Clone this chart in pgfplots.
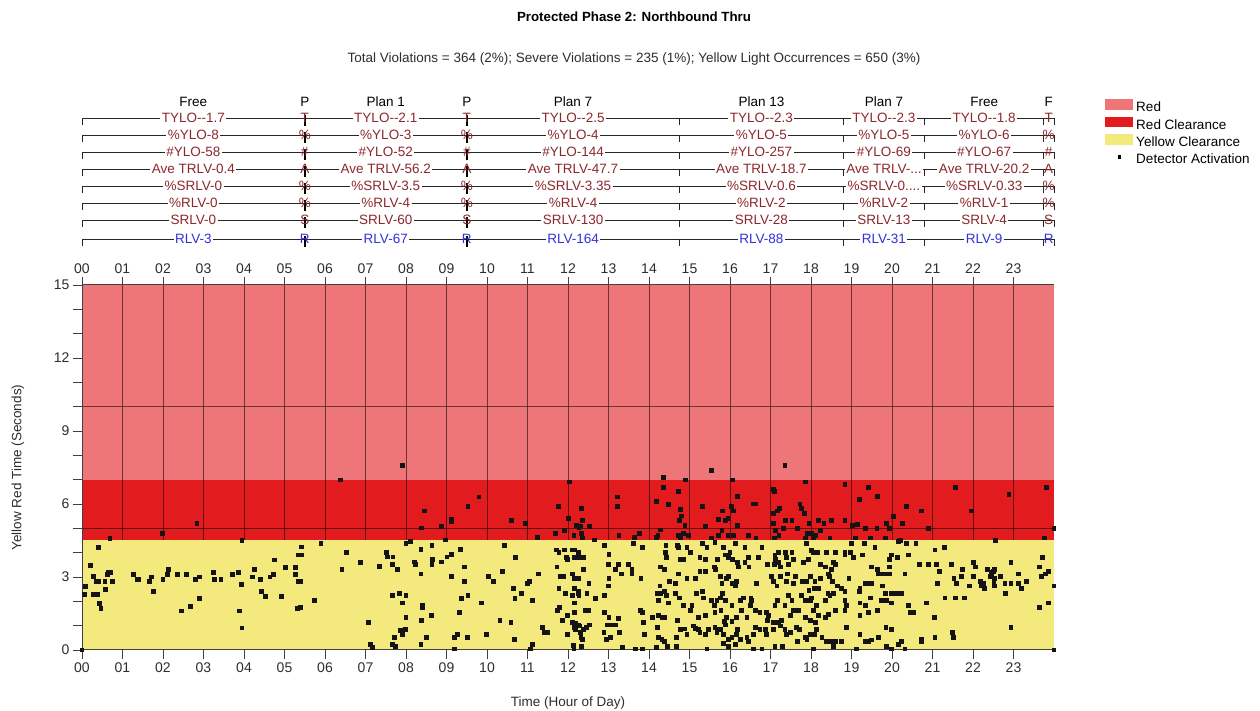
\documentclass[border=0pt]{standalone}
\usepackage{pgfplots}
\pgfplotsset{compat=1.18}
\usepackage{fontspec}
\setmainfont{Liberation Sans}

\definecolor{redzone}{RGB}{238,118,121}
\definecolor{redclear}{RGB}{226,28,30}
\definecolor{yellowclear}{RGB}{244,233,124}
\definecolor{hdrtext}{RGB}{140,40,45}
\definecolor{rlvblue}{RGB}{50,50,220}
\definecolor{axisgray}{RGB}{64,64,64}
\definecolor{labgray}{RGB}{45,45,45}

\newcommand\hfont{\fontsize{13.5}{15}\selectfont}

\tikzset{
  hline/.style={black!85, line width=0.9pt},
  hlab/.style={font=\hfont, fill=white, inner xsep=1.5pt, inner ysep=1pt, anchor=base, yshift=-4.8pt},
  hletter/.style={font=\hfont, inner sep=0pt, anchor=base, yshift=-4.8pt},
}

% plan rows, left part: y, colour, Free text, short-plan letter, Plan 1 text, Plan 7 text
\newcommand{\hdrrowA}[6]{%
  \draw[hline] (axis cs:0,#1) -- (axis cs:24,#1);
  \draw[hline] (axis cs:0,#1) -- ++(0pt,-7pt);
  \node[hlab,text=#2] at (axis cs:2.75,#1) {#3};
  \node[hlab,text=#2] at (axis cs:7.5,#1) {#5};
  \node[hlab,text=#2] at (axis cs:12.125,#1) {#6};
  \draw[black, line width=2.2pt] (axis cs:5.5,#1) ++(0pt,3pt) -- ++(0pt,-11pt);
  \draw[black, line width=2.2pt] (axis cs:9.5,#1) ++(0pt,3pt) -- ++(0pt,-11pt);
  \node[hletter,text=#2] at (axis cs:5.5,#1) {#4};
  \node[hletter,text=#2] at (axis cs:9.5,#1) {#4};
}
% plan rows, right part: y, colour, Plan 13 text, Plan 7 text, Free text, last letter
\newcommand{\hdrrowB}[6]{%
  \draw[hline] (axis cs:14.75,#1) -- ++(0pt,-7pt);
  \draw[hline] (axis cs:18.8,#1) -- ++(0pt,-7pt);
  \draw[hline] (axis cs:20.8,#1) -- ++(0pt,-7pt);
  \draw[hline] (axis cs:23.75,#1) -- ++(0pt,-7pt);
  \draw[hline] (axis cs:24,#1) -- ++(0pt,-7pt);
  \node[hlab,text=#2] at (axis cs:16.775,#1) {#3};
  \node[hlab,text=#2] at (axis cs:19.8,#1) {#4};
  \node[hlab,text=#2] at (axis cs:22.275,#1) {#5};
  \node[hletter,text=#2] at (axis cs:23.87,#1) {#6};
}

\begin{document}
\begin{tikzpicture}[x=1pt,y=1pt]
\useasboundingbox (0,0) rectangle (1260,711);

\node[font=\fontsize{13.3}{15}\selectfont\bfseries] at (634,694) {Protected Phase 2: Northbound Thru};
\node[font=\hfont, text=labgray] at (634,652) {Total Violations = 364 (2\%); Severe Violations = 235 (1\%); Yellow Light Occurrences = 650 (3\%)};

% main chart
\begin{axis}[
  at={(82pt,61pt)}, anchor=south west,
  scale only axis, width=972pt, height=365pt,
  xmin=0, xmax=24, ymin=0, ymax=15,
  axis on top,
  axis x line*=bottom, axis y line*=left,
  axis line style={axisgray, line width=1pt, -},
  xtick={0,...,23},
  xticklabels={00,01,02,03,04,05,06,07,08,09,10,11,12,13,14,15,16,17,18,19,20,21,22,23},
  ytick={0,3,6,9,12,15},
  minor ytick={1,2,4,5,7,8,10,11,13,14},
  tick align=outside,
  major tick length=9pt, minor tick length=9pt,
  tick style={axisgray, line width=0.9pt},
  /pgf/number format/assume math mode=true,
  ticklabel style={font=\fontsize{14}{16}\selectfont, text=labgray},
  xlabel={Time (Hour of Day)},
  ylabel={Yellow Red Time (Seconds)},
  label style={font=\hfont, text=labgray},
  xlabel style={at={(axis description cs:0.5,-0.145)}, anchor=center},
  ylabel style={at={(axis description cs:-0.066,0.5)}, anchor=center},
  clip=false,
  legend style={at={(1.0525,1.51)}, anchor=north west, draw=none, fill=none,
    font=\hfont, inner sep=0pt, row sep=0pt,
    nodes={text height=10pt, text depth=3pt, inner ysep=2pt, inner xsep=3pt}},
  legend cell align=left,
]
\addplot[fill=redzone, draw=none, area legend,
  legend image code/.code={\fill[redzone] (0pt,-1.5pt) rectangle (28pt,9pt);}]
  coordinates {(0,7) (24,7) (24,15) (0,15)} -- cycle;
\addlegendentry{Red}
\addplot[fill=redclear, draw=none, area legend,
  legend image code/.code={\fill[redclear] (0pt,-1.5pt) rectangle (28pt,9pt);}]
  coordinates {(0,4.5) (24,4.5) (24,7) (0,7)} -- cycle;
\addlegendentry{Red Clearance}
\addplot[fill=yellowclear, draw=none, area legend,
  legend image code/.code={\fill[yellowclear] (0pt,-1.5pt) rectangle (28pt,9pt);}]
  coordinates {(0,0) (24,0) (24,4.5) (0,4.5)} -- cycle;
\addlegendentry{Yellow Clearance}

% hour and 5-second grid over the red bands
\pgfplotsinvokeforeach{1,...,23}{
  \draw[black, opacity=0.55, line width=1pt] (axis cs:#1,4.5) -- (axis cs:#1,15);
}
\draw[black, opacity=0.55, line width=1pt] (axis cs:0,10) -- (axis cs:24,10);
\draw[black, opacity=0.55, line width=1pt] (axis cs:0,5) -- (axis cs:24,5);

% detector activations
\addplot[only marks, mark=square*, mark size=1.9pt,
  mark options={draw=black!92, fill=black!92, line width=0pt},
  legend image code/.code={\fill[black] (12.5pt,2pt) rectangle (15pt,4.5pt);}]
coordinates {
(0,0) (0.06,2.29) (0.08,2.6) (0.2,3.48) (0.28,3.01) (0.28,2.29) (0.35,2.8) (0.39,2.29) (0.4,2.8) (0.41,4.2)
(0.43,1.9) (0.47,1.7) (0.57,2.8) (0.58,2.5) (0.62,3.1) (0.65,3.2) (0.69,4.59) (0.7,3.2) (0.76,2.8) (1.27,3.1)
(1.37,2.9) (1.4,2.9) (1.66,2.8) (1.72,3.0) (1.76,2.4) (1.98,4.8) (2.0,2.9) (2.12,3.1) (2.13,3.3) (2.36,3.1)
(2.46,1.6) (2.58,3.1) (2.67,1.8) (2.81,2.9) (2.84,5.2) (2.9,3.0) (2.9,2.1) (3.24,3.2) (3.27,2.9) (3.43,2.9)
(3.72,3.1) (3.87,3.2) (3.88,1.6) (3.93,2.7) (3.95,4.5) (3.95,0.9) (4.21,3.0) (4.26,3.3) (4.4,2.9) (4.43,2.4)
(4.54,2.2) (4.64,3.0) (4.72,3.1) (4.76,3.7) (4.93,2.2) (5.03,3.4) (5.28,3.4) (5.27,3.1) (5.35,3.9) (5.34,2.8)
(5.33,1.7)
(7.91,7.59) (6.38,6.99) (12.03,6.90) (14.35,7.10) (9.80,6.29) (9.53,5.89) (8.46,5.71) (9.12,5.37) (9.13,5.28) (8.38,5.01)
(8.88,5.09) (10.60,5.31) (10.95,5.20) (11.77,5.89) (12.34,5.81) (12.02,5.39) (12.36,5.31) (12.21,5.13) (12.31,5.07) (12.27,5.03)
(12.53,5.07) (11.92,4.91) (11.69,4.80) (12.15,4.69) (12.34,4.80) (12.36,4.60) (11.25,4.61) (12.66,4.52) (13.23,6.29) (13.23,5.89)
(13.26,4.69) (13.77,4.80) (13.65,4.61) (14.18,6.10) (14.36,6.69) (14.72,6.50) (14.49,5.99) (14.29,4.93) (14.22,4.69) (14.18,4.61)
(14.72,4.69) (5.90,4.39) (8.00,4.38) (8.12,4.45) (8.97,4.52) (5.41,4.23) (5.41,3.90) (8.37,4.12) (8.64,4.30) (9.34,4.12)
(6.54,4.01) (7.51,4.01) (7.55,3.82) (7.68,3.82) (8.21,3.62) (8.24,3.52) (7.66,3.52) (7.79,3.32) (7.34,3.43) (6.87,3.61)
(6.42,3.32) (8.65,3.71) (8.64,3.52) (8.88,3.62) (9.01,3.82) (9.13,3.92) (8.37,3.12) (9.45,3.41) (9.12,3.02) (9.45,2.82)
(10.43,4.30) (10.70,3.81) (10.38,3.22) (10.03,3.02) (10.16,2.82) (5.39,2.82) (5.39,1.73) (5.75,2.03) (7.67,2.23) (7.83,2.33)
(8.00,2.23) (7.91,1.93) (8.41,1.84) (8.41,1.73) (8.00,1.33) (8.38,1.22) (8.63,1.43) (7.08,1.14) (7.86,0.79) (7.98,0.83)
(7.91,0.64) (7.72,0.53) (8.50,0.53) (8.37,0.23) (7.75,0.14) (7.67,0.23) (7.13,0.23) (7.17,0.11) (9.20,0.53) (9.27,0.64)
(9.20,0.04) (9.52,0.53) (9.37,2.12) (9.53,2.23) (9.33,1.54) (9.86,1.93) (9.99,0.64) (10.32,1.22) (10.59,1.14) (10.67,0.44)
(10.66,2.52) (10.69,2.12) (10.86,2.33) (11.00,2.72) (11.04,2.82) (11.13,2.03) (11.27,3.12) (11.37,0.94) (11.42,0.73) (11.50,0.73)
(11.12,0.23) (11.07,0.04)
(11.71,4.11) (11.78,4.01) (11.92,4.11) (12.11,4.11) (12.17,4.11) (12.25,4.01) (11.96,3.81) (12.16,3.81) (12.39,3.81) (12.29,3.81)
(11.99,3.71) (11.73,3.41) (12.39,3.32) (11.82,3.02) (11.90,3.02) (12.11,3.12) (12.15,2.93) (12.25,2.93) (12.52,2.72) (11.78,2.52)
(11.94,2.33) (12.16,2.52) (12.25,2.33) (12.11,2.23) (12.27,2.23) (12.47,2.33) (12.27,2.42) (12.68,2.12) (12.16,1.93) (11.74,1.63)
(11.79,1.73) (11.99,1.43) (12.16,1.54) (12.42,1.63) (12.52,1.63) (11.86,1.22) (12.11,1.14) (12.19,1.09) (12.25,1.03) (12.29,0.99)
(12.16,0.94) (12.19,0.83) (12.30,0.73) (12.39,0.83) (12.45,0.94) (12.53,1.03) (11.99,0.64) (12.32,0.53) (12.36,0.44) (12.34,0.14)
(12.15,0.04) (12.14,0.18)
(12.91,4.30) (13.01,3.92) (12.99,3.51) (13.24,3.51) (13.17,3.32) (13.32,3.12) (13.50,3.51) (13.58,3.32) (13.01,2.93) (12.99,2.63)
(12.91,2.23) (12.90,1.54) (13.01,1.33) (12.98,1.03) (13.09,1.03) (13.17,1.03) (13.24,1.29) (13.27,0.73) (12.89,0.73) (13.04,0.53)
(12.96,0.44) (13.35,0.11) (13.67,0.04) (13.83,0.04) (13.83,1.54) (13.79,1.63) (13.80,2.93) (13.58,3.12) (13.83,4.22) (13.61,4.39)
(13.89,0.64) (14.08,1.33) (13.86,1.14)
(14.42,4.30) (14.70,4.30) (14.40,4.01) (14.43,3.81) (14.28,3.41) (14.39,3.32) (14.65,2.72) (14.27,2.63) (14.51,2.82) (14.28,2.33)
(14.20,2.33) (14.39,2.42) (14.43,2.23) (14.65,2.33) (14.24,2.03) (14.49,1.93) (14.24,1.43) (14.34,1.33) (14.39,1.33) (14.70,1.22)
(14.20,0.94) (14.24,0.53) (14.32,0.44) (14.39,0.34) (14.46,0.14) (14.67,0.53) (14.67,0.14) (14.18,0.11)
(15.55,7.37) (17.36,7.59)
(14.91,6.99) (16.07,6.99) (17.86,6.90) (18.84,6.80) (19.42,6.68) (21.56,6.68) (23.82,6.68) (22.89,6.39) (17.07,6.60) (17.09,6.50)
(16.18,6.30) (19.65,6.30) (19.20,6.19) (15.32,5.89) (16.58,6.00) (16.62,6.00) (17.73,6.00) (16.03,5.89) (20.36,5.89) (17.17,5.71)
(15.82,5.71) (16.09,5.71) (17.76,5.81) (17.84,5.62) (20.73,5.71) (21.97,5.71) (17.23,5.81) (14.77,5.78) (14.81,5.51) (15.72,5.37)
(15.88,5.31) (15.95,5.40) (16.18,5.10) (17.07,5.61) (17.38,5.31) (17.53,5.31) (17.95,5.20) (18.18,5.31) (18.32,5.20) (18.50,5.31)
(18.84,5.31) (19.02,5.10) (19.15,5.17) (19.35,4.99) (19.63,4.99) (19.86,5.20) (19.94,4.99) (20.03,5.50) (20.25,5.20) (20.90,4.99)
(24.00,4.99) (15.80,4.90) (15.39,5.07) (14.76,5.31) (14.89,5.10) (17.07,5.20) (17.33,4.99) (17.67,4.99) (18.24,4.90) (17.90,4.79)
(18.02,4.80) (18.12,4.69) (17.13,4.90) (16.46,4.69) (16.64,4.60) (15.55,4.60) (15.72,4.71) (15.95,4.71) (16.09,4.71) (17.10,4.60)
(17.21,4.69) (17.86,4.60) (18.06,4.60) (18.47,4.60) (19.10,4.60) (19.46,4.60) (19.83,4.60) (20.20,4.50) (22.56,4.50) (23.76,4.60)
(14.98,4.71) (14.85,4.80) (14.78,4.60)
(14.73,4.22) (14.94,4.22) (15.02,4.01) (15.32,4.39) (15.43,4.22) (15.63,4.42) (15.84,4.22) (16.00,4.01) (16.13,4.39) (16.37,4.22)
(16.79,4.22) (17.20,4.01) (17.38,4.01) (17.53,4.01) (17.88,4.39) (18.02,4.08) (18.17,4.01) (18.39,4.01) (18.61,4.01) (18.84,4.01)
(18.99,4.39) (19.32,4.39) (19.58,4.20) (20.16,4.45) (20.36,4.39) (20.59,4.39) (21.06,4.11) (21.29,4.22) (23.71,3.81) (18.97,4.01)
(14.77,3.71) (14.85,3.71) (15.26,3.81) (15.39,3.71) (15.70,3.71) (15.88,3.90) (15.96,3.81) (16.07,3.71) (16.19,3.61) (16.21,3.41)
(16.46,3.81) (16.47,3.41) (16.37,3.61) (16.70,3.81) (16.93,3.51) (17.11,3.90) (17.13,3.71) (17.10,3.51) (17.24,3.41) (17.40,3.81)
(17.20,3.61) (17.44,3.51) (17.57,3.71) (17.81,3.61) (17.94,3.71) (18.06,4.01) (18.24,3.51) (18.35,3.41) (18.55,3.61) (18.60,3.51)
(18.50,3.32) (18.84,3.90) (19.05,3.81) (19.27,3.90) (19.50,3.41) (19.65,3.32) (19.66,3.12) (19.94,3.71) (19.99,3.90) (20.14,3.81)
(20.40,3.90) (19.94,3.41) (20.67,3.51) (20.90,3.51) (21.10,3.51) (21.46,3.51) (21.74,3.32) (22.01,3.61) (22.07,3.41) (22.35,3.32)
(22.46,3.20) (22.53,3.32) (22.94,3.61) (23.12,3.12) (23.65,3.41) (23.86,3.22) (23.79,3.12) (23.69,3.02) (14.73,3.12) (14.94,2.93)
(15.14,2.93)
(15.26,3.22) (15.39,3.22) (15.62,3.41) (15.65,3.32) (15.76,3.02) (15.92,2.93) (15.96,3.02) (16.05,2.72) (15.80,2.72) (16.17,2.82)
(16.13,2.63) (16.66,2.72) (17.03,3.02) (17.07,2.82) (17.16,2.63) (17.24,3.02) (17.42,3.12) (17.40,2.82) (17.57,2.72) (17.61,3.02)
(17.79,2.82) (17.90,2.82) (17.98,3.02) (18.10,2.82) (17.95,2.45) (18.09,2.52) (18.18,2.54) (18.23,2.93) (18.43,3.12) (18.45,3.02)
(18.53,2.82) (18.66,2.63) (18.55,2.33) (18.76,2.54) (18.47,2.23) (18.94,2.93) (19.21,2.52) (19.34,2.72) (19.44,2.72) (19.50,2.72)
(19.71,3.12) (19.83,3.12) (19.93,3.12) (19.83,2.33) (19.99,2.33) (20.12,2.33) (20.24,2.33) (20.32,3.12) (19.76,2.63) (21.17,3.22)
(21.13,2.72) (21.31,2.14) (21.53,2.93) (21.60,2.72) (21.72,3.02) (21.91,2.63) (22.01,3.02) (22.19,2.82) (22.26,2.72) (22.28,2.54)
(22.42,3.02) (22.46,3.12) (22.50,3.22) (22.54,2.93) (22.67,3.02) (22.79,2.72) (22.81,2.33) (22.94,2.72) (23.12,2.72) (23.20,2.52)
(23.32,2.82) (24.00,2.63) (22.52,2.82) (22.54,2.63) (21.56,2.14) (21.79,2.14) (22.20,2.63)
(14.75,2.14) (15.06,1.84) (14.85,1.84) (15.18,2.33) (15.32,2.42) (15.35,2.14) (15.55,2.03) (15.68,2.03) (15.62,1.84) (15.77,2.14)
(15.82,2.31) (15.88,2.03) (16.05,1.84) (16.25,2.03) (16.33,2.14) (16.50,1.84) (16.52,2.14) (16.54,2.03) (15.02,1.63) (15.22,1.33)
(15.39,1.43) (15.63,1.54) (15.78,1.63) (15.86,1.16) (15.92,1.33) (16.05,1.16) (16.17,1.33) (16.29,1.63) (16.42,1.33) (16.62,1.63)
(16.74,1.54) (16.95,1.43) (16.91,1.54) (17.11,1.84) (17.18,2.03) (17.36,1.84) (17.44,2.23) (17.53,2.03) (17.57,1.63) (17.69,1.63)
(17.77,2.23) (17.86,2.03) (17.98,2.03) (18.06,1.63) (18.02,2.14) (18.14,1.84) (18.36,2.03) (18.42,2.33) (18.43,1.46) (18.60,1.63)
(18.84,1.63) (18.84,2.03) (18.88,1.84) (19.21,1.93) (19.34,1.84) (19.46,2.14) (19.65,1.63) (19.75,2.03) (19.87,2.03) (19.99,1.93)
(20.40,1.84) (20.53,1.54) (20.45,1.54) (20.86,1.93) (21.05,1.33) (23.86,1.93) (23.65,1.73) (18.84,2.42) (19.20,2.42) (19.21,1.43)
(19.42,1.54) (17.28,1.22) (17.49,1.43) (17.86,1.33) (17.98,1.22) (18.12,1.13) (18.18,1.43) (18.35,1.33) (16.93,1.22) (17.07,1.13)
(14.77,0.83) (14.89,0.86) (14.94,0.64) (15.10,0.99) (15.14,0.88) (15.22,0.83) (15.26,0.73) (15.39,0.64) (15.47,0.83) (15.63,0.94)
(15.68,0.73) (15.72,0.83) (15.78,0.83) (15.88,1.03) (15.84,0.64) (15.96,0.44) (16.05,0.53) (16.17,0.64) (16.19,0.83) (16.25,0.44)
(16.42,0.53) (16.46,0.34) (16.62,0.94) (16.58,0.64) (16.74,0.83) (16.87,0.83) (16.91,0.64) (17.07,0.83) (17.20,1.13) (17.25,0.99)
(17.36,0.83) (17.40,0.64) (17.49,0.73) (17.65,0.94) (17.71,0.83) (17.86,0.53) (17.90,0.44) (17.98,0.64) (18.10,0.64) (18.14,0.83)
(18.27,0.53) (18.39,0.34) (18.51,0.34) (18.60,0.34) (18.76,0.34) (18.88,0.94) (19.21,0.64) (19.34,0.34) (19.43,0.34) (19.50,0.41)
(19.66,0.53) (19.85,0.94) (19.99,0.83) (19.87,0.14) (19.99,0.04) (20.16,0.23) (20.32,0.04) (20.24,0.34) (20.73,0.44) (20.73,0.34)
(21.06,0.53) (21.49,0.73) (21.51,0.53) (22.94,0.94) (15.43,0.04) (15.84,0.27) (15.96,0.14) (16.13,0.23) (16.58,0.04) (16.79,0.04)
(17.11,0.14) (17.30,0.14) (17.67,0.34) (18.07,0.04) (18.55,0.14) (19.13,0.04) (24.00,0.00)
};
\addlegendentry{Detector Activation}
\end{axis}

% hour labels along the top edge
\begin{axis}[
  at={(82pt,61pt)}, anchor=south west,
  scale only axis, width=972pt, height=365pt,
  xmin=0, xmax=24, ymin=0, ymax=15,
  axis x line*=top, axis y line=none,
  axis line style={axisgray, line width=1pt, -},
  xtick={0,...,23},
  xticklabels={00,01,02,03,04,05,06,07,08,09,10,11,12,13,14,15,16,17,18,19,20,21,22,23},
  tick align=outside, major tick length=8pt,
  tick style={axisgray, line width=0.9pt},
  ticklabel style={font=\fontsize{14}{16}\selectfont, text=labgray},
]
\end{axis}

% timing-plan summary rows
\begin{axis}[
  at={(82pt,626pt)}, anchor=north west,
  scale only axis, width=972pt, height=200pt,
  xmin=0, xmax=24, ymin=85, ymax=285, y dir=reverse,
  hide axis, clip=false,
]
\node[hletter,text=black] at (axis cs:2.75,102) {Free};
\node[hletter,text=black] at (axis cs:5.5,102) {P};
\node[hletter,text=black] at (axis cs:7.5,102) {Plan 1};
\node[hletter,text=black] at (axis cs:9.5,102) {P};
\node[hletter,text=black] at (axis cs:12.125,102) {Plan 7};
\node[hletter,text=black] at (axis cs:16.775,102) {Plan 13};
\node[hletter,text=black] at (axis cs:19.8,102) {Plan 7};
\node[hletter,text=black] at (axis cs:22.275,102) {Free};
\node[hletter,text=black] at (axis cs:23.87,102) {F};

\hdrrowA{118}{hdrtext}{TYLO-{}-1.7}{T}{TYLO-{}-2.1}{TYLO-{}-2.5}
\hdrrowB{118}{hdrtext}{TYLO-{}-2.3}{TYLO-{}-2.3}{TYLO-{}-1.8}{T}
\hdrrowA{135}{hdrtext}{\%YLO-8}{\%}{\%YLO-3}{\%YLO-4}
\hdrrowB{135}{hdrtext}{\%YLO-5}{\%YLO-5}{\%YLO-6}{\%}
\hdrrowA{152}{hdrtext}{\#YLO-58}{\#}{\#YLO-52}{\#YLO-144}
\hdrrowB{152}{hdrtext}{\#YLO-257}{\#YLO-69}{\#YLO-67}{\#}
\hdrrowA{169}{hdrtext}{Ave TRLV-0.4}{A}{Ave TRLV-56.2}{Ave TRLV-47.7}
\hdrrowB{169}{hdrtext}{Ave TRLV-18.7}{Ave TRLV-...}{Ave TRLV-20.2}{A}
\hdrrowA{186}{hdrtext}{\%SRLV-0}{\%}{\%SRLV-3.5}{\%SRLV-3.35}
\hdrrowB{186}{hdrtext}{\%SRLV-0.6}{\%SRLV-0....}{\%SRLV-0.33}{\%}
\hdrrowA{203}{hdrtext}{\%RLV-0}{\%}{\%RLV-4}{\%RLV-4}
\hdrrowB{203}{hdrtext}{\%RLV-2}{\%RLV-2}{\%RLV-1}{\%}
\hdrrowA{220}{hdrtext}{SRLV-0}{S}{SRLV-60}{SRLV-130}
\hdrrowB{220}{hdrtext}{SRLV-28}{SRLV-13}{SRLV-4}{S}
\hdrrowA{239}{rlvblue}{RLV-3}{R}{RLV-67}{RLV-164}
\hdrrowB{239}{rlvblue}{RLV-88}{RLV-31}{RLV-9}{R}
\end{axis}
\end{tikzpicture}
\end{document}
